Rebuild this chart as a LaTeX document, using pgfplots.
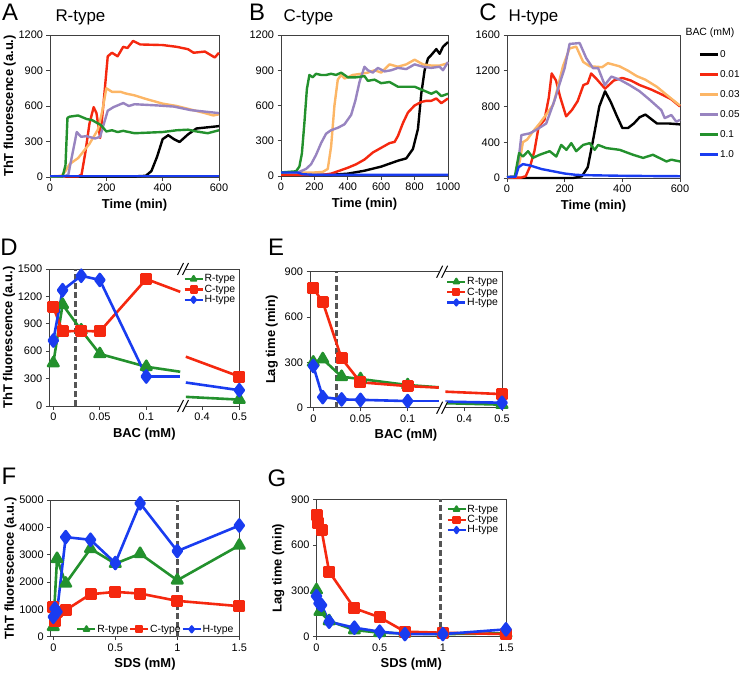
\documentclass[border=0pt]{standalone}
\usepackage{pgfplots}
\pgfplotsset{compat=1.18}
\usepackage{fontspec}
\setmainfont{Liberation Sans}

\definecolor{cblack}{RGB}{0,0,0}
\definecolor{cred}{RGB}{245,40,15}
\definecolor{corange}{RGB}{252,182,102}
\definecolor{cpurple}{RGB}{152,132,192}
\definecolor{cgreen}{RGB}{35,145,45}
\definecolor{cblue}{RGB}{25,60,240}
\definecolor{dashgray}{RGB}{85,85,85}

\pgfplotsset{
  panel/.style={
    scale only axis, clip=false,
    axis line style={black!75, line width=0.8bp},
    tick style={black!75, line width=0.8bp},
    tick align=outside, major tick length=3.5bp,
    xtick pos=bottom, ytick pos=left,
    tick label style={font=\fontsize{11}{13}\selectfont},
    label style={font=\bfseries\fontsize{13}{15}\selectfont},
    /pgf/number format/assume math mode=true,
    /pgf/number format/1000 sep={},
    scaled ticks=false,
  },
  tc/.style={line width=2.4bp, line join=round, no marks},
  ser/.style={line width=2.6bp, line join=round},
  sR/.style={ser, cgreen, mark=triangle*, mark size=6bp},
  sC/.style={ser, cred, mark=square*, mark size=4.7bp},
  sH/.style={ser, cblue, mark=diamond*, mark size=6bp},
  vdash/.style={dashgray, line width=2.6bp, dash pattern=on 6bp off 3bp, no marks, forget plot},
  smallleg/.style={
    legend style={draw=none, fill=none, font=\fontsize{10.5}{12}\selectfont,
      nodes={inner sep=0.8bp}, row sep=0bp},
    legend cell align=left,
    legend image code/.code={\draw[mark repeat=2, mark phase=2, ##1, line width=2.2bp, mark size=3bp]
      plot coordinates {(0bp,0bp) (9bp,0bp) (18bp,0bp)};},
  },
}

% axis-break mark "//"
\newcommand{\brk}[2]{%
  \fill[white] ([shift={(-6bp,-6bp)}]axis cs:#1,#2) -- ([shift={(0bp,-6bp)}]axis cs:#1,#2)
    -- ([shift={(6bp,6bp)}]axis cs:#1,#2) -- ([shift={(0bp,6bp)}]axis cs:#1,#2) -- cycle;
  \draw[black, line width=1bp] ([shift={(-5.5bp,-6bp)}]axis cs:#1,#2) -- ([shift={(0.5bp,6bp)}]axis cs:#1,#2);
  \draw[black, line width=1bp] ([shift={(-0.5bp,-6bp)}]axis cs:#1,#2) -- ([shift={(5.5bp,6bp)}]axis cs:#1,#2);
}

\begin{document}
\begin{tikzpicture}
\useasboundingbox (0bp,0bp) rectangle (745bp,-674bp);

% panel letters and titles
\node[font=\fontsize{24}{28}\selectfont] at (10bp,-12bp) {A};
\node[font=\fontsize{24}{28}\selectfont] at (257bp,-12bp) {B};
\node[font=\fontsize{24}{28}\selectfont] at (488bp,-12bp) {C};
\node[font=\fontsize{24}{28}\selectfont] at (9bp,-247bp) {D};
\node[font=\fontsize{24}{28}\selectfont] at (276bp,-247bp) {E};
\node[font=\fontsize{24}{28}\selectfont] at (9bp,-476bp) {F};
\node[font=\fontsize{24}{28}\selectfont] at (277bp,-478bp) {G};
\node[anchor=west, font=\fontsize{17}{20}\selectfont] at (52bp,-17bp) {R-type};
\node[anchor=west, font=\fontsize{17}{20}\selectfont] at (280bp,-17bp) {C-type};
\node[anchor=west, font=\fontsize{17}{20}\selectfont] at (505bp,-17bp) {H-type};
\node[anchor=west, font=\fontsize{10.5}{12}\selectfont] at (682bp,-33bp) {BAC (mM)};

% ---------------- A: R-type ----------------
\begin{axis}[panel, at={(50bp,-35bp)}, anchor=north west, width=169bp, height=142bp,
  xmin=0, xmax=600, ymin=0, ymax=1200, xtick={0,200,400,600}, ytick={0,300,600,900,1200},
  xlabel={Time (min)}, ylabel={ThT fluorescence (a.u.)}, ylabel shift=-4bp]
\addplot[tc, cblack] coordinates {(0,5)(300,5)(340,10)(360,50)(380,170)(400,320)(420,353)(440,320)(460,296)(490,360)(520,410)(560,420)(600,430)};
\addplot[tc, cred] coordinates {(0,5)(100,5)(112,20)(125,200)(140,450)(155,590)(165,540)(178,330)(190,620)(205,1020)(220,1050)(240,1020)(260,1100)(275,1090)(295,1150)(320,1120)(400,1115)(450,1100)(490,1080)(510,1050)(550,1060)(585,1010)(600,1050)};
\addplot[tc, corange] coordinates {(0,5)(40,10)(55,50)(70,110)(100,160)(140,280)(170,400)(185,550)(200,750)(220,720)(250,720)(270,705)(300,690)(340,660)(400,620)(450,600)(500,570)(550,540)(580,520)(600,530)};
\addplot[tc, cpurple] coordinates {(0,5)(50,5)(65,20)(80,200)(95,380)(110,340)(130,345)(160,325)(178,340)(190,440)(205,560)(225,590)(260,625)(280,600)(300,615)(380,605)(440,595)(500,565)(560,550)(600,540)};
\addplot[tc, cgreen] coordinates {(0,5)(45,5)(55,100)(62,500)(70,510)(100,520)(130,490)(150,480)(180,440)(200,385)(220,395)(240,380)(260,390)(300,370)(350,375)(400,380)(450,395)(490,400)(520,385)(560,370)(600,395)};
\addplot[tc, cblue] coordinates {(0,10)(300,10)(600,10)};
\end{axis}

% ---------------- B: C-type ----------------
\begin{axis}[panel, at={(281bp,-35bp)}, anchor=north west, width=167bp, height=141bp,
  xmin=0, xmax=1000, ymin=0, ymax=1200, xtick={0,200,400,600,800,1000}, ytick={0,300,600,900,1200},
  xlabel={Time (min)}]
\addplot[tc, cblack] coordinates {(0,10)(300,10)(400,20)(500,45)(600,80)(700,130)(750,150)(790,230)(820,400)(840,700)(860,900)(880,1000)(900,1030)(930,1080)(950,1040)(970,1100)(1000,1140)};
\addplot[tc, cred] coordinates {(0,10)(250,10)(300,20)(350,45)(400,70)(450,100)(500,140)(550,200)(600,240)(650,280)(680,290)(700,340)(730,450)(760,540)(800,600)(840,630)(870,640)(900,640)(930,660)(960,620)(980,640)(1000,660)};
\addplot[tc, corange] coordinates {(0,30)(200,30)(250,35)(280,60)(300,250)(320,600)(340,820)(360,860)(380,830)(400,840)(430,860)(480,870)(520,880)(560,900)(600,880)(650,950)(700,930)(750,950)(800,990)(850,950)(900,940)(950,940)(1000,960)};
\addplot[tc, cpurple] coordinates {(0,30)(100,30)(150,60)(180,100)(210,180)(240,280)(270,360)(300,390)(340,410)(380,440)(420,520)(445,640)(470,800)(500,930)(520,900)(550,880)(580,920)(620,890)(660,900)(700,920)(750,910)(800,950)(850,930)(900,920)(950,930)(970,900)(1000,970)};
\addplot[tc, cgreen] coordinates {(0,30)(90,40)(110,80)(125,190)(140,450)(155,740)(170,860)(190,840)(210,870)(240,860)(270,860)(300,870)(330,860)(360,880)(400,840)(450,840)(500,850)(520,810)(560,820)(600,790)(650,800)(700,760)(750,760)(800,760)(850,730)(900,700)(930,720)(960,680)(1000,700)};
\addplot[tc, cblue] coordinates {(0,30)(100,30)(130,15)(200,10)(1000,10)};
\end{axis}

% ---------------- C: H-type ----------------
\begin{axis}[panel, at={(507bp,-35bp)}, anchor=north west, width=173bp, height=143bp,
  xmin=0, xmax=600, ymin=0, ymax=1600, xtick={0,200,400,600}, ytick={0,400,800,1200,1600},
  xlabel={Time (min)},
  legend style={draw=none, fill=none, at={(1.09,0.915)}, anchor=north west,
    font=\fontsize{10}{12}\selectfont, nodes={inner sep=1bp}, row sep=9.5bp},
  legend cell align=left,
  legend image code/.code={\draw[#1, line width=2.4bp] (0bp,0bp) -- (18bp,0bp);}]
\addplot[tc, cblack] coordinates {(0,0)(230,0)(260,20)(280,120)(300,450)(320,800)(340,970)(360,850)(380,700)(400,560)(420,560)(440,610)(460,680)(480,710)(500,660)(520,610)(560,610)(600,600)};
\addlegendentry{0}
\addplot[tc, cred] coordinates {(0,5)(50,5)(65,20)(80,130)(95,300)(110,580)(130,650)(145,900)(155,1170)(170,1090)(185,900)(205,690)(225,760)(245,860)(265,1040)(280,1060)(292,1170)(310,1110)(340,1000)(370,1090)(400,1120)(430,1090)(460,1040)(500,990)(540,930)(570,880)(600,800)};
\addlegendentry{0.01}
\addplot[tc, corange] coordinates {(0,10)(30,15)(45,200)(55,400)(70,430)(90,520)(113,610)(136,710)(160,820)(171,950)(194,1250)(217,1450)(240,1470)(264,1300)(287,1250)(330,1240)(350,1285)(390,1250)(420,1200)(450,1140)(480,1100)(520,1020)(550,940)(600,810)};
\addlegendentry{0.03}
\addplot[tc, cpurple] coordinates {(0,10)(30,15)(40,200)(50,480)(79,500)(102,540)(136,610)(165,870)(183,1060)(200,1230)(217,1500)(252,1510)(275,1340)(298,1230)(316,1230)(339,1040)(362,1135)(391,1100)(425,1040)(460,970)(495,875)(535,760)(547,670)(570,705)(587,630)(600,650)};
\addlegendentry{0.05}
\addplot[tc, cgreen] coordinates {(0,10)(27,15)(42,280)(55,240)(73,300)(90,225)(113,260)(148,300)(171,240)(188,370)(206,315)(223,390)(240,300)(264,370)(287,390)(304,315)(316,370)(344,335)(391,315)(437,260)(472,225)(506,260)(553,185)(570,205)(600,185)};
\addlegendentry{0.1}
\addplot[tc, cblue] coordinates {(0,10)(30,15)(40,120)(55,155)(80,140)(120,100)(160,75)(200,50)(240,35)(300,30)(400,25)(500,22)(600,20)};
\addlegendentry{1.0}
\end{axis}

% ---------------- D: fluorescence vs BAC ----------------
\begin{axis}[panel, smallleg, at={(49.3bp,-269bp)}, anchor=north west, width=190bp, height=137bp,
  xmin=-0.086, xmax=4, ymin=0, ymax=1500,
  xtick={0,1,2,3.2,4}, xticklabels={0,0.05,0.1,0.4,0.5}, ytick={0,300,600,900,1200,1500},
  xlabel={BAC (mM)}, ylabel={ThT fluorescence (a.u.)}, ylabel shift=-4bp,
  legend style={at={(1,0.98)}, anchor=north east}]
\addplot[vdash] coordinates {(0.48,0)(0.48,1500)};
\addplot[ser, cgreen, no marks, forget plot] coordinates {(2,430)(2.73,375)};
\addplot[sR, forget plot, mark indices={2}] coordinates {(2.85,100)(4,70)};
\addplot[ser, cred, no marks, forget plot] coordinates {(2,1390)(2.73,1250)};
\addplot[sC, forget plot, mark indices={2}] coordinates {(2.85,540)(4,323)};
\addplot[ser, cblue, no marks, forget plot] coordinates {(2,323)(2.73,323)};
\addplot[sH, forget plot, mark indices={2}] coordinates {(2.85,257)(4,173)};
\addplot[sR] coordinates {(0,470)(0.2,1110)(0.6,830)(1,570)(2,430)};
\addlegendentry{R-type}
\addplot[sC] coordinates {(0,1085)(0.2,816)(0.6,823)(1,816)(2,1390)};
\addlegendentry{C-type}
\addplot[sH] coordinates {(0,717)(0.2,1268)(0.6,1426)(1,1380)(2,323)};
\addlegendentry{H-type}
\brk{2.79}{0}
\brk{2.79}{1500}
\end{axis}

% ---------------- E: lag time vs BAC ----------------
\begin{axis}[panel, smallleg, at={(310bp,-271.7bp)}, anchor=north west, width=192bp, height=136bp,
  xmin=-0.07, xmax=4, ymin=0, ymax=900,
  xtick={0,1,2,3.2,4}, xticklabels={0,0.05,0.1,0.4,0.5}, ytick={0,300,600,900},
  xlabel={BAC (mM)}, ylabel={Lag time (min)},
  legend style={at={(1,0.98)}, anchor=north east}]
\addplot[vdash] coordinates {(0.49,0)(0.49,900)};
\addplot[ser, cgreen, no marks, forget plot] coordinates {(2,150)(2.66,135)};
\addplot[sR, forget plot, mark indices={2}] coordinates {(2.8,30)(4,20)};
\addplot[ser, cred, no marks, forget plot] coordinates {(2,143)(2.66,133)};
\addplot[sC, forget plot, mark indices={2}] coordinates {(2.8,106)(4,90)};
\addplot[ser, cblue, no marks, forget plot] coordinates {(2,44)(2.66,44)};
\addplot[sH, forget plot, mark indices={2}] coordinates {(2.8,40)(4,33)};
\addplot[sR] coordinates {(0,300)(0.2,322)(0.6,205)(1,190)(2,150)};
\addlegendentry{R-type}
\addplot[sC] coordinates {(0,790)(0.2,700)(0.6,326)(1,168)(2,143)};
\addlegendentry{C-type}
\addplot[sH] coordinates {(0,276)(0.2,70)(0.6,55)(1,52)(2,44)};
\addlegendentry{H-type}
\brk{2.73}{0}
\brk{2.73}{900}
\end{axis}

% ---------------- F: fluorescence vs SDS ----------------
\begin{axis}[panel, smallleg, at={(50.7bp,-500bp)}, anchor=north west, width=188.6bp, height=136.7bp,
  xmin=-0.021, xmax=1.5, ymin=0, ymax=5000,
  xtick={0,0.5,1,1.5}, ytick={0,1000,2000,3000,4000,5000},
  xlabel={SDS (mM)}, ylabel={ThT fluorescence (a.u.)}, ylabel shift=-4bp,
  legend columns=3, legend style={at={(0.99,0.0)}, anchor=south east, column sep=0bp}]
\addplot[vdash] coordinates {(1,0)(1,5000)};
\addplot[sR] coordinates {(0,364)(0.03,2850)(0.1,1950)(0.3,3217)(0.5,2671)(0.7,3035)(1,2064)(1.5,3339)};
\addlegendentry{R-type}
\addplot[sC] coordinates {(0,1080)(0.01,560)(0.03,900)(0.1,971)(0.3,1554)(0.5,1639)(0.7,1578)(1,1311)(1.5,1117)};
\addlegendentry{C-type}
\addplot[sH] coordinates {(0,728)(0.013,1032)(0.03,910)(0.1,3642)(0.3,3545)(0.5,2695)(0.7,4880)(1,3132)(1.5,4067)};
\addlegendentry{H-type}
\end{axis}

% ---------------- G: lag time vs SDS ----------------
\begin{axis}[panel, smallleg, at={(316.5bp,-499.3bp)}, anchor=north west, width=189.5bp, height=137.4bp,
  xmin=0, xmax=1.5, ymin=0, ymax=900,
  xtick={0,0.5,1,1.5}, ytick={0,300,600,900},
  xlabel={SDS (mM)}, ylabel={Lag time (min)},
  legend style={at={(0.98,0.98)}, anchor=north east}]
\addplot[vdash] coordinates {(0.98,0)(0.98,900)};
\addplot[sR] coordinates {(0,306)(0.027,164)(0.1,103)(0.3,44)(0.5,26)(0.7,22)(1,17)(1.5,22)};
\addlegendentry{R-type}
\addplot[sC] coordinates {(0,797)(0.013,743)(0.04,699)(0.1,426)(0.3,186)(0.5,127)(0.7,33)(1,26)(1.5,17)};
\addlegendentry{C-type}
\addplot[sH] coordinates {(0,266)(0.02,218)(0.04,207)(0.1,98)(0.3,59)(0.5,33)(0.7,17)(1,17)(1.5,48)};
\addlegendentry{H-type}
\end{axis}
\end{tikzpicture}
\end{document}
